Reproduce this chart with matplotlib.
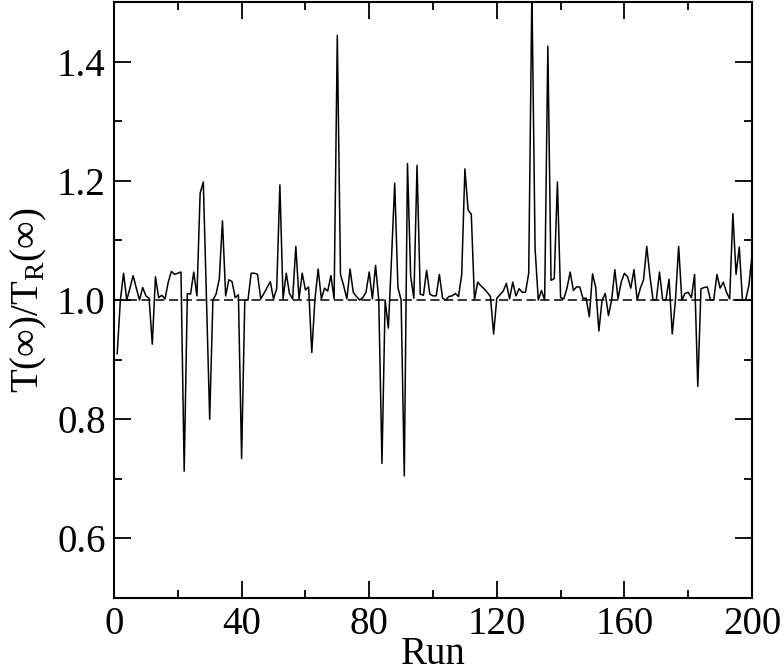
"""Ratio T(inf)/T_R(inf) per run, with a dashed reference at 1."""
import numpy as np, matplotlib
matplotlib.use("Agg")
import matplotlib.pyplot as plt
from matplotlib.ticker import MultipleLocator

plt.rcParams["font.family"] = ["Liberation Serif", "DejaVu Serif"]
plt.rcParams["mathtext.fontset"] = "custom"
plt.rcParams["mathtext.rm"] = "Liberation Serif"

runs = np.arange(1, 201)
ratio = [
    0.910, 1.000, 1.045, 1.000, 1.020, 1.041, 1.020, 1.000, 1.021, 1.007,
    1.003, 0.926, 1.039, 1.004, 1.008, 1.002, 1.030, 1.048, 1.043, 1.045,
    1.047, 0.713, 1.011, 1.010, 1.047, 1.007, 1.179, 1.198, 1.000, 0.800,
    1.000, 1.010, 1.035, 1.133, 1.007, 1.034, 1.031, 1.004, 1.009, 0.734,
    1.000, 1.000, 1.045, 1.045, 1.043, 1.002, 1.011, 1.021, 1.031, 1.002,
    1.019, 1.193, 1.002, 1.045, 1.011, 1.002, 1.090, 1.002, 1.045, 1.017,
    1.022, 0.912, 1.002, 1.052, 1.002, 1.020, 1.015, 1.041, 1.002, 1.444,
    1.043, 1.024, 1.002, 1.052, 1.013, 1.006, 1.000, 1.004, 1.013, 1.047,
    1.002, 1.058, 1.000, 0.726, 1.000, 0.953, 1.070, 1.196, 1.021, 1.000,
    0.705, 1.229, 1.040, 1.003, 1.226, 1.010, 1.008, 1.050, 1.010, 1.007,
    1.007, 1.043, 1.003, 1.000, 1.006, 1.007, 1.011, 1.006, 1.043, 1.220,
    1.151, 1.144, 1.000, 1.030, 1.024, 1.019, 1.013, 1.006, 0.943, 1.003,
    1.009, 1.015, 1.028, 1.002, 1.030, 1.007, 1.019, 1.013, 1.013, 1.045,
    1.520, 1.086, 1.000, 1.016, 1.000, 1.426, 1.033, 1.036, 1.198, 1.004,
    1.002, 1.020, 1.047, 1.016, 1.022, 1.022, 1.003, 1.003, 0.972, 1.044,
    1.021, 0.948, 1.000, 1.011, 0.974, 1.000, 1.051, 1.002, 1.030, 1.045,
    1.039, 1.020, 1.051, 1.000, 1.020, 1.034, 1.090, 1.040, 1.000, 1.000,
    1.047, 1.000, 1.000, 1.035, 0.943, 1.000, 1.090, 1.000, 1.011, 1.013,
    1.004, 1.043, 0.855, 1.019, 1.021, 1.022, 1.000, 1.000, 1.043, 1.020,
    1.030, 1.013, 1.002, 1.145, 1.043, 1.089, 1.000, 1.000, 1.024, 1.075,
]
ref_x = [0, 200]
ref_y = [1.0, 1.0]

fig = plt.figure(figsize=(7.84, 6.72), dpi=100)
ax = fig.add_axes([0.1454, 0.110, 0.8138, 0.887])

ax.plot(ref_x, ref_y, color="black", lw=1.1, ls=(0, (6, 3)))
ax.plot(runs, ratio, color="black", lw=1.1)

ax.set_xlim(0, 200); ax.set_ylim(0.5, 1.5)
ax.xaxis.set_major_locator(MultipleLocator(40)); ax.xaxis.set_minor_locator(MultipleLocator(20))
ax.yaxis.set_major_locator(MultipleLocator(0.2)); ax.yaxis.set_minor_locator(MultipleLocator(0.1))
ax.yaxis.set_major_formatter(matplotlib.ticker.FormatStrFormatter("%.1f"))
ax.tick_params(which="both", direction="in", top=True, right=True, width=1.3, labelsize=28)
ax.tick_params(which="major", length=12, pad=6)
ax.tick_params(which="minor", length=6)
for s in ax.spines.values(): s.set_linewidth(1.5)

ax.set_xlabel("Run", fontsize=28, labelpad=-5)
ax.set_ylabel(r"T(∞)/T$_\mathrm{R}$(∞)", fontsize=28, labelpad=6)

fig.savefig("out.png", dpi=100)
print("ok")
